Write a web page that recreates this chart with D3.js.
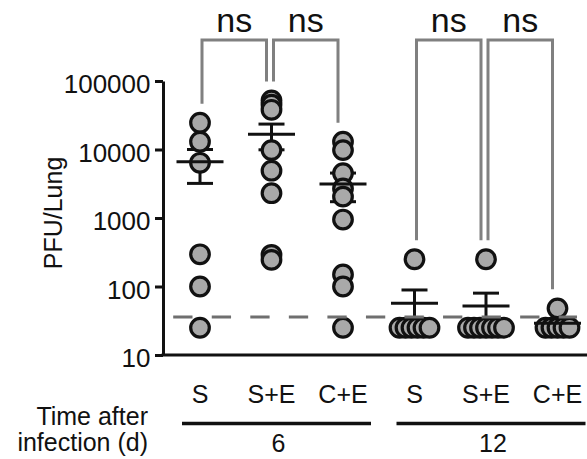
<html>
    <head>
        <script src="https://cdnjs.cloudflare.com/ajax/libs/d3/7.8.5/d3.min.js"></script>
        <style>
            body { margin: 0; background: #fff; }
            text { font-family: "Liberation Sans", Arial, sans-serif; fill: #111; }
            .yaxis .domain, .yaxis line { stroke: #111; stroke-width: 3; }
        </style>
    </head>
    <body>
        <div id="chart"></div>
        <script>
            // values
            const groups = ["S", "S+E", "C+E", "S", "S+E", "C+E"];
            const days = ["6", "12"];
            const dayGroups = [[0, 2], [3, 5]];
            const pfu = [
                [24600, 13000, 6400, 295, 100, 25],
                [52000, 45000, 38000, 9800, 4900, 2300, 290, 245],
                [13000, 9800, 4500, 2700, 2050, 950, 150, 100, 25],
                [250, 25, 25, 25, 25, 25, 25],
                [250, 25, 25, 25, 25, 25, 25, 25],
                [48, 25, 25, 25, 25, 25]
            ];
            const means = [6600, 16700, 3130, 57, 52, 29];
            const sems = [3400, 6800, 1400, 32, 28, 4];
            const yTicks = [10, 100, 1000, 10000, 100000];
            const detectionLimit = 36;
            const comparisons = [[0, 1], [1, 2], [3, 4], [4, 5]];
            const compLabels = ["ns", "ns", "ns", "ns"];

            const width = 587, height = 459;
            const svg = d3.select("#chart").append("svg")
                          .attr("width", width)
                          .attr("height", height);

            const axisX = 163;
            const xScale = d3.scalePoint()
                             .domain(d3.range(groups.length))
                             .range([200, 557.5]);
            const yScale = d3.scaleLog()
                             .domain([10, 100000])
                             .range([355, 81]);

            // y axis
            let leftAxis = d3.axisLeft(yScale)
                             .tickValues(yTicks)
                             .tickFormat(d3.format("d"))
                             .tickSize(8)
                             .tickSizeOuter(0)
                             .tickPadding(4.5);
            let yAxisG = svg.append("g")
                            .attr("class", "yaxis")
                            .attr("transform", `translate(${axisX}, 0)`)
                            .call(leftAxis);
            yAxisG.selectAll("text")
                  .attr("dy", "0.45em")
                  .style("font-size", "26px")
                  .style("font-family", '"Liberation Sans", Arial, sans-serif')
                  .attr("fill", "#111");

            // x axis line
            svg.append("line")
               .attr("x1", axisX - 1.5).attr("x2", width)
               .attr("y1", yScale(10)).attr("y2", yScale(10))
               .attr("stroke", "#111").attr("stroke-width", 3);

            svg.append("text")
               .attr("transform", "translate(62, 213) rotate(-90)")
               .attr("text-anchor", "middle")
               .style("font-size", "25px")
               .text("PFU/Lung");

            // significance brackets
            const bracketTop = 40;
            const legBottom = i => yScale(d3.max(pfu[i])) - 19;
            comparisons.forEach((c, k) => {
                let xl = xScale(c[0]) + 2, xr = xScale(c[1]) - 5;
                svg.append("path")
                   .attr("d", `M${xl},${legBottom(c[0])}V${bracketTop}H${xr}V${legBottom(c[1])}`)
                   .attr("fill", "none")
                   .attr("stroke", "#808080")
                   .attr("stroke-width", 3);
                svg.append("text")
                   .attr("x", (xl + xr) / 2)
                   .attr("y", 32)
                   .attr("text-anchor", "middle")
                   .style("font-size", "34px")
                   .text(compLabels[k]);
            });

            // error bars (under the points)
            const capHalf = 13, meanHalf = 23.5;
            let errG = svg.append("g").attr("stroke", "#111").attr("stroke-width", 3);
            means.forEach((m, i) => {
                let cx = xScale(i);
                let top = yScale(m + sems[i]), bot = yScale(Math.max(m - sems[i], 10));
                errG.append("line").attr("x1", cx).attr("x2", cx).attr("y1", top).attr("y2", bot);
                errG.append("line").attr("x1", cx - capHalf).attr("x2", cx + capHalf).attr("y1", top).attr("y2", top);
                errG.append("line").attr("x1", cx - capHalf).attr("x2", cx + capHalf).attr("y1", bot).attr("y2", bot);
            });

            // points: identical values are spread sideways
            const spread = 6;
            let points = [];
            pfu.forEach((vals, i) => {
                let counts = d3.rollup(vals, v => v.length, v => v);
                let seen = new Map();
                vals.forEach(v => {
                    let n = counts.get(v), k = seen.get(v) || 0;
                    seen.set(v, k + 1);
                    points.push({ group: i, value: v, off: (k - (n - 1) / 2) * spread });
                });
            });
            svg.append("g").selectAll("circle").data(points)
               .join("circle")
               .attr("cx", d => xScale(d.group) + d.off)
               .attr("cy", d => yScale(d.value))
               .attr("r", 9.3)
               .attr("fill", "#a9a9a9")
               .attr("stroke", "#111")
               .attr("stroke-width", 3.2);

            // mean lines
            svg.append("g").selectAll("line").data(means)
               .join("line")
               .attr("x1", (d, i) => xScale(i) - meanHalf)
               .attr("x2", (d, i) => xScale(i) + meanHalf)
               .attr("y1", d => yScale(d))
               .attr("y2", d => yScale(d))
               .attr("stroke", "#111")
               .attr("stroke-width", 3);

            // limit of detection
            svg.append("line")
               .attr("x1", 173.2).attr("x2", 577)
               .attr("y1", yScale(detectionLimit)).attr("y2", yScale(detectionLimit))
               .attr("stroke", "#6f6f6f")
               .attr("stroke-width", 3)
               .attr("stroke-dasharray", "19.3,19.25");

            // category labels
            svg.append("g").selectAll("text").data(groups)
               .join("text")
               .attr("x", (d, i) => xScale(i))
               .attr("y", 403)
               .attr("text-anchor", "middle")
               .style("font-size", "25px")
               .text(d => d);

            // day grouping lines
            dayGroups.forEach((g, k) => {
                let x1 = xScale(g[0]) - 18, x2 = xScale(g[1]) + 28;
                svg.append("line")
                   .attr("x1", x1).attr("x2", x2)
                   .attr("y1", 423.5).attr("y2", 423.5)
                   .attr("stroke", "#111").attr("stroke-width", 3.5);
                svg.append("text")
                   .attr("x", (x1 + x2) / 2 + 2)
                   .attr("y", 452)
                   .attr("text-anchor", "middle")
                   .style("font-size", "25px")
                   .text(days[k]);
            });

            svg.append("text")
               .attr("x", 148).attr("y", 425)
               .attr("text-anchor", "end")
               .style("font-size", "25px")
               .text("Time after");
            svg.append("text")
               .attr("x", 148).attr("y", 451)
               .attr("text-anchor", "end")
               .style("font-size", "25px")
               .text("infection (d)");
        </script>
    </body>
</html>
